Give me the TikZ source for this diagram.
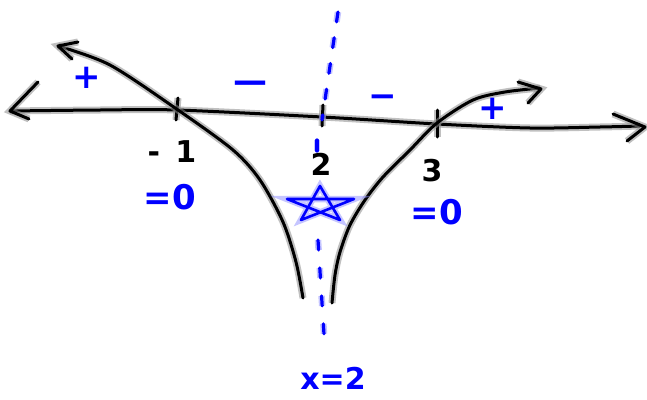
\documentclass[tikz,border=0pt]{standalone}
\usepackage{fontspec}
\setmainfont{DejaVu Sans}
\usetikzlibrary{positioning}

\begin{document}
\begin{tikzpicture}[
      x=1pt, y=-1pt,
      ink/.style={draw=black, line width=3pt, line cap=round, line join=round,
                  preaction={draw=black!45, line width=7pt, opacity=0.55}},
      blueink/.style={draw=blue, line width=3.2pt, line cap=round, line join=round,
                  preaction={draw=blue!45, line width=6.5pt, opacity=0.5}},
      dashink/.style={draw=blue, line width=3.2pt, line cap=round,
                  dash pattern=on 10pt off #1,
                  preaction={draw=blue!45, line width=6.5pt, opacity=0.5,
                             dash pattern=on 10pt off #1}},
      num/.style={font=\fontsize{30}{32}\selectfont\bfseries, text=black, inner sep=0pt},
      sign/.style={font=\fontsize{34}{36}\selectfont\bfseries, text=blue, inner sep=0pt}]
    \useasboundingbox (0,0) rectangle (647,399);

    % number line
    \draw[ink] plot[smooth] coordinates {(10,111) (100,110) (177,110) (322,117)
      (437,124) (530,128) (600,127) (640,126)};
    \draw[ink] (38,82) -- (10,111) -- (29,119);
    \draw[ink] (613,114) -- (645,127) -- (627,141);

    % ticks
    \draw[ink] (178,98) -- (176,120);
    \draw[ink] (323,105) -- (322,126);
    \draw[ink] (437,110) -- (437,137);

    % left branch
    \draw[ink] plot[smooth] coordinates {(58,46) (110,65) (178,110) (233,150)
      (260,180) (283,222) (296,262) (303,298)};
    \draw[ink] (78,42) -- (58,46) -- (72,59);

    % right branch
    \draw[ink] plot[smooth] coordinates {(332,303) (335,275) (340,252) (350,225)
      (365,200) (383,177) (410,150) (437,123) (473,100) (505,92) (540,88)};
    \draw[ink] (518,82) -- (541,89) -- (528,103);

    % asymptote
    \coordinate (asyTop) at (338,12);
    \coordinate (asyMid) at (322,120);
    \coordinate (asyLow) at (318,240);
    \coordinate (asyEnd) at (325,350);
    \draw[dashink=16pt] (asyTop) -- (asyMid);
    \draw[blueink] (317,140) -- (317,151);
    \draw[dashink=18pt] (asyLow) -- (asyEnd);

    % star
    \draw[blueink, line width=2.6pt] (320,186) -- (301,220) -- (354,199)
      -- (287,199) -- (340,220) -- cycle;

    % roots
    \node[num] (rootA) at (172,152) {-\ \,1};
    \node[num] (vert) at (321,164) {2};
    \node[num] (rootB) at (432,171) {3};
    \node[sign] (zeroA) at (170,197) {=0};
    \node[sign] (zeroB) at (437,212) {=0};
    \node[sign, font=\fontsize{30}{32}\selectfont\bfseries] (asyLabel) at (333,378) {x=2};

    % signs
    \node[sign] (plusL) at (87,78) {+};
    \node[sign] (minusA) at (250,87) {—};
    \node[sign] (minusB) at (383,101) {−};
    \node[sign] (plusR) at (493,109) {+};
  \end{tikzpicture}
\end{document}
